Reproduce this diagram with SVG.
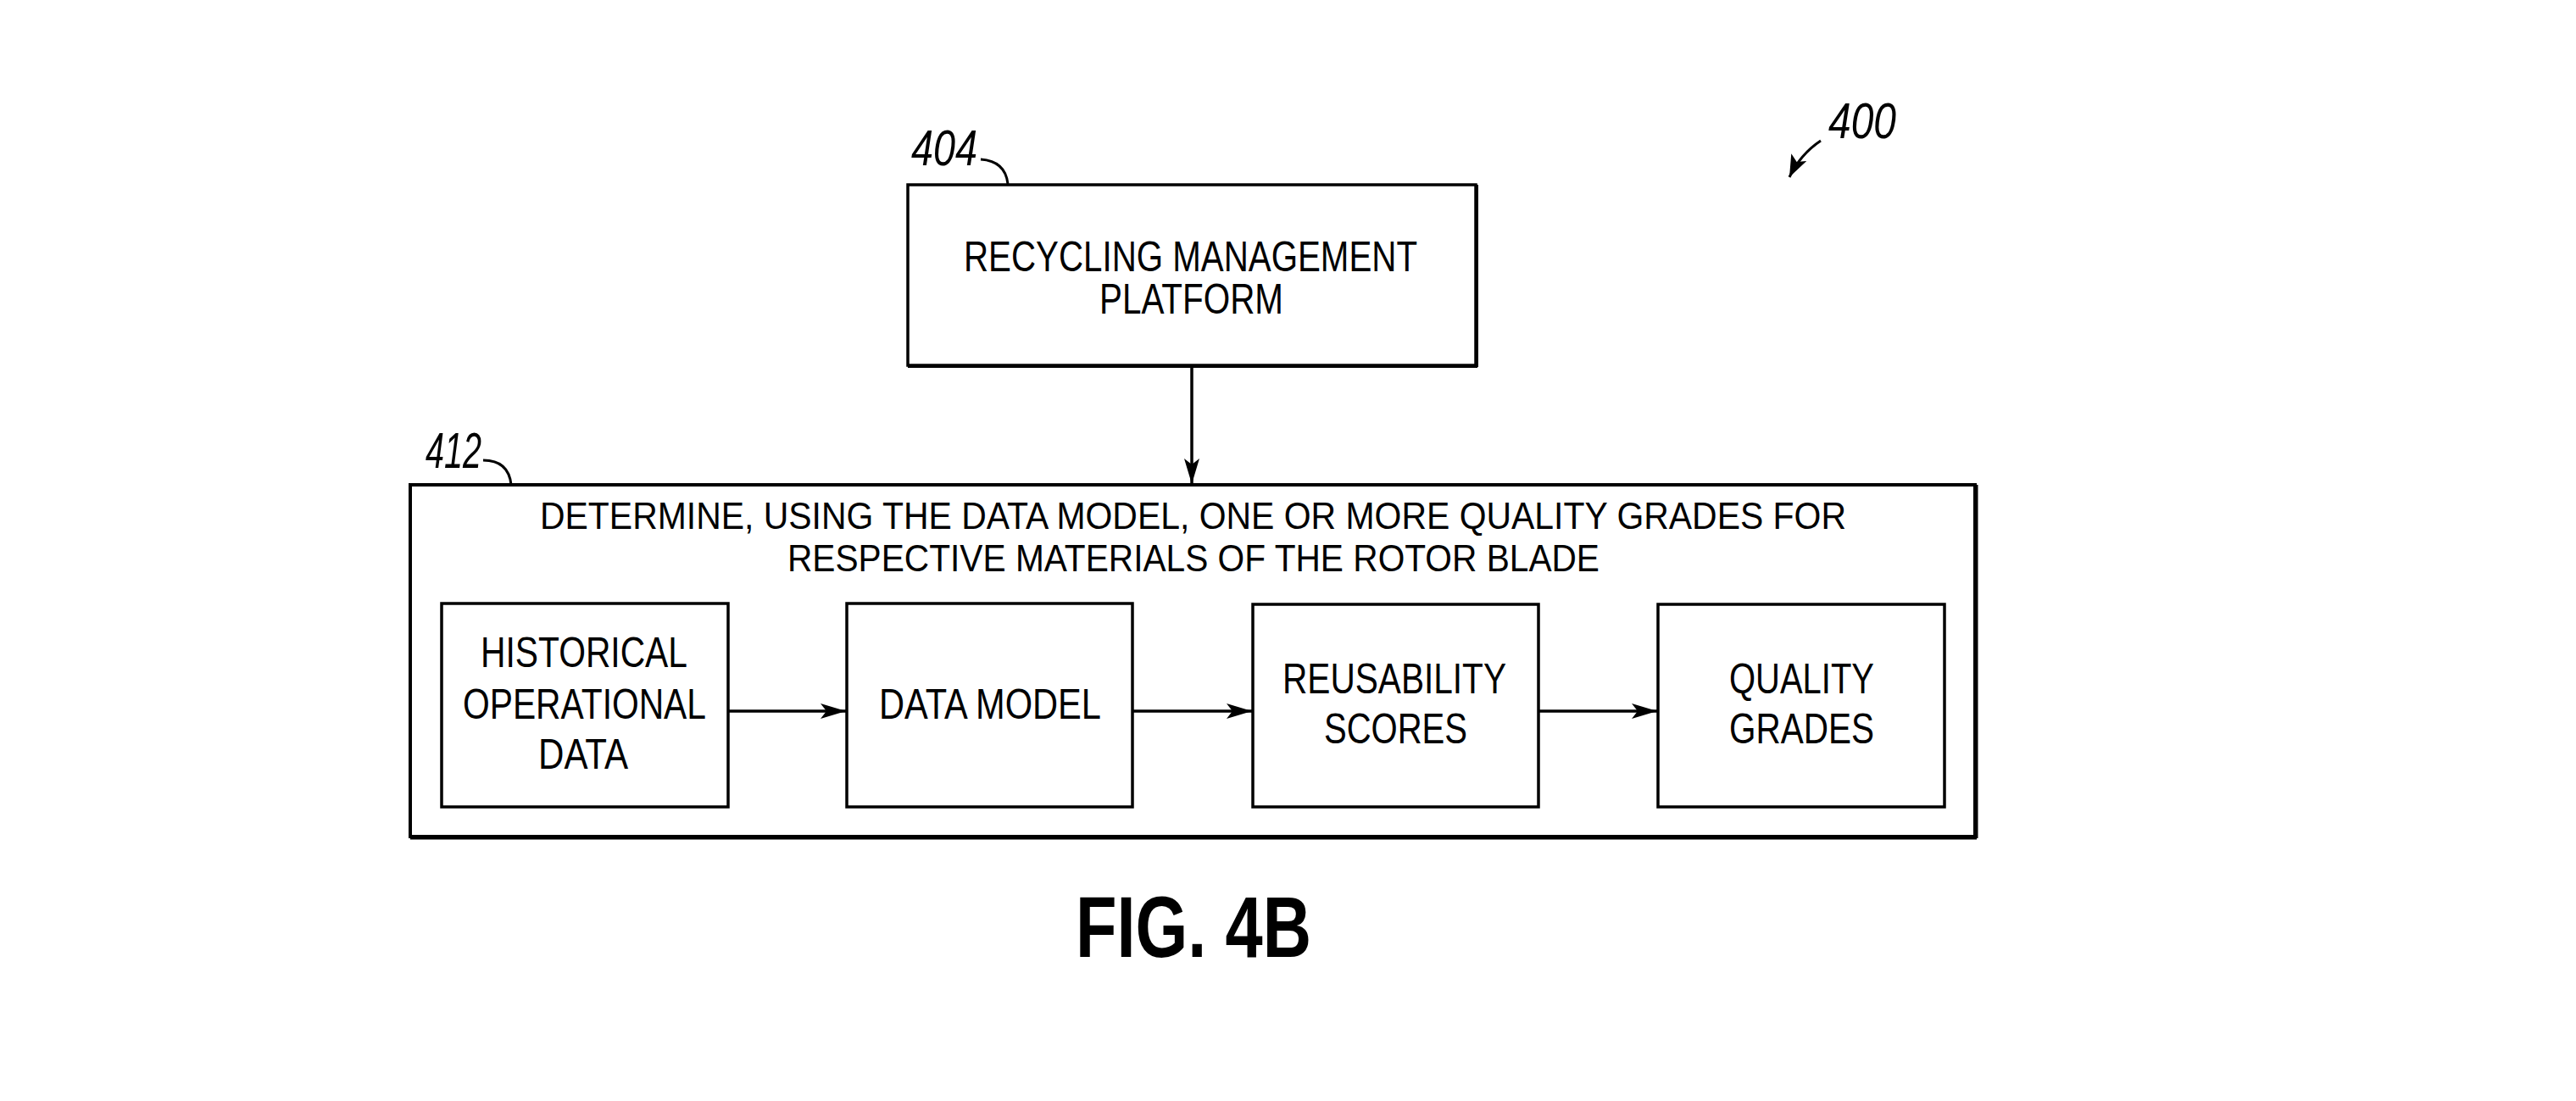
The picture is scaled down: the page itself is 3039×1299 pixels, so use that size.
<svg xmlns="http://www.w3.org/2000/svg" width="3039" height="1299" viewBox="0 0 3039 1299">
<style>
.box{fill:#fff;stroke:#000;stroke-width:3.5}
.big{fill:none;stroke:#000;stroke-width:4}
.t{font-family:"Liberation Sans",Arial,sans-serif;font-size:50px;fill:#000}
.h{font-family:"Liberation Sans",Arial,sans-serif;font-size:45px;fill:#000}
.ref{font-family:"Liberation Sans",Arial,sans-serif;font-style:italic;font-size:60px;fill:#000}
.fig{font-family:"Liberation Sans",Arial,sans-serif;font-weight:bold;font-size:102px;fill:#000}
.conn{fill:none;stroke:#000;stroke-width:3.5}
.lead{fill:none;stroke:#000;stroke-width:3}
</style>
<defs>
<marker id="ah" viewBox="0 0 30 18" refX="30" refY="9" markerWidth="30" markerHeight="18" markerUnits="userSpaceOnUse" orient="auto">
<path d="M0,0 L30,9 L0,18 L7,9 Z" fill="#000"/>
</marker>
<marker id="ah2" viewBox="0 0 26 20" refX="26" refY="10" markerWidth="26" markerHeight="20" markerUnits="userSpaceOnUse" orient="auto">
<path d="M0,0 L26,10 L0,20 L6,10 Z" fill="#000"/>
</marker>
</defs>
<rect width="3039" height="1299" fill="#fff"/>

<g id="ref400">
<text class="ref" x="2157" y="163" textLength="80" lengthAdjust="spacingAndGlyphs">400</text>
<path class="lead" d="M2148,166 Q2124,182 2111,209" marker-end="url(#ah2)"/>
</g>

<g id="node404">
<rect class="box" x="1071" y="218" width="670" height="213"/>
<line x1="1071" y1="432" x2="1743" y2="432" stroke="#000" stroke-width="4"/>
<line x1="1742" y1="218" x2="1742" y2="433" stroke="#000" stroke-width="4"/>
<text class="t" x="1137" y="320" textLength="535" lengthAdjust="spacingAndGlyphs">RECYCLING MANAGEMENT</text>
<text class="t" x="1297" y="370" textLength="217" lengthAdjust="spacingAndGlyphs">PLATFORM</text>
<text class="ref" x="1075" y="195" textLength="78" lengthAdjust="spacingAndGlyphs">404</text>
<path class="lead" d="M1157,188 Q1186,190 1189,217"/>
</g>

<g id="node412">
<rect class="big" x="484" y="572" width="1846" height="415"/>
<line x1="484" y1="988" x2="2332" y2="988" stroke="#000" stroke-width="5"/>
<line x1="2331" y1="572" x2="2331" y2="989" stroke="#000" stroke-width="5"/>
<text class="h" x="637" y="624" textLength="1541" lengthAdjust="spacingAndGlyphs">DETERMINE, USING THE DATA MODEL, ONE OR MORE QUALITY GRADES FOR</text>
<text class="h" x="929" y="674" textLength="958" lengthAdjust="spacingAndGlyphs">RESPECTIVE MATERIALS OF THE ROTOR BLADE</text>
<text class="ref" x="502" y="552" textLength="66" lengthAdjust="spacingAndGlyphs">412</text>
<path class="lead" d="M570,543 Q600,543 603,572"/>
</g>

<g id="historical">
<rect class="box" x="521" y="712" width="338" height="240"/>
<text class="t" x="567" y="787" textLength="244" lengthAdjust="spacingAndGlyphs">HISTORICAL</text>
<text class="t" x="546" y="848" textLength="287" lengthAdjust="spacingAndGlyphs">OPERATIONAL</text>
<text class="t" x="635" y="907" textLength="106" lengthAdjust="spacingAndGlyphs">DATA</text>
</g>

<g id="datamodel">
<rect class="box" x="999" y="712" width="337" height="240"/>
<text class="t" x="1037" y="848" textLength="262" lengthAdjust="spacingAndGlyphs">DATA MODEL</text>
</g>

<g id="reusability">
<rect class="box" x="1478" y="713" width="337" height="239"/>
<text class="t" x="1513" y="818" textLength="264" lengthAdjust="spacingAndGlyphs">REUSABILITY</text>
<text class="t" x="1562" y="877" textLength="169" lengthAdjust="spacingAndGlyphs">SCORES</text>
</g>

<g id="quality">
<rect class="box" x="1956" y="713" width="338" height="239"/>
<text class="t" x="2040" y="818" textLength="171" lengthAdjust="spacingAndGlyphs">QUALITY</text>
<text class="t" x="2040" y="877" textLength="171" lengthAdjust="spacingAndGlyphs">GRADES</text>
</g>

<g id="connectors">
<line class="conn" x1="1406" y1="433" x2="1406" y2="571" marker-end="url(#ah)"/>
<line class="conn" x1="859" y1="839" x2="998" y2="839" marker-end="url(#ah)"/>
<line class="conn" x1="1336" y1="839" x2="1477" y2="839" marker-end="url(#ah)"/>
<line class="conn" x1="1815" y1="839" x2="1955" y2="839" marker-end="url(#ah)"/>
</g>

<text class="fig" x="1269" y="1129" textLength="278" lengthAdjust="spacingAndGlyphs">FIG. 4B</text>
</svg>
